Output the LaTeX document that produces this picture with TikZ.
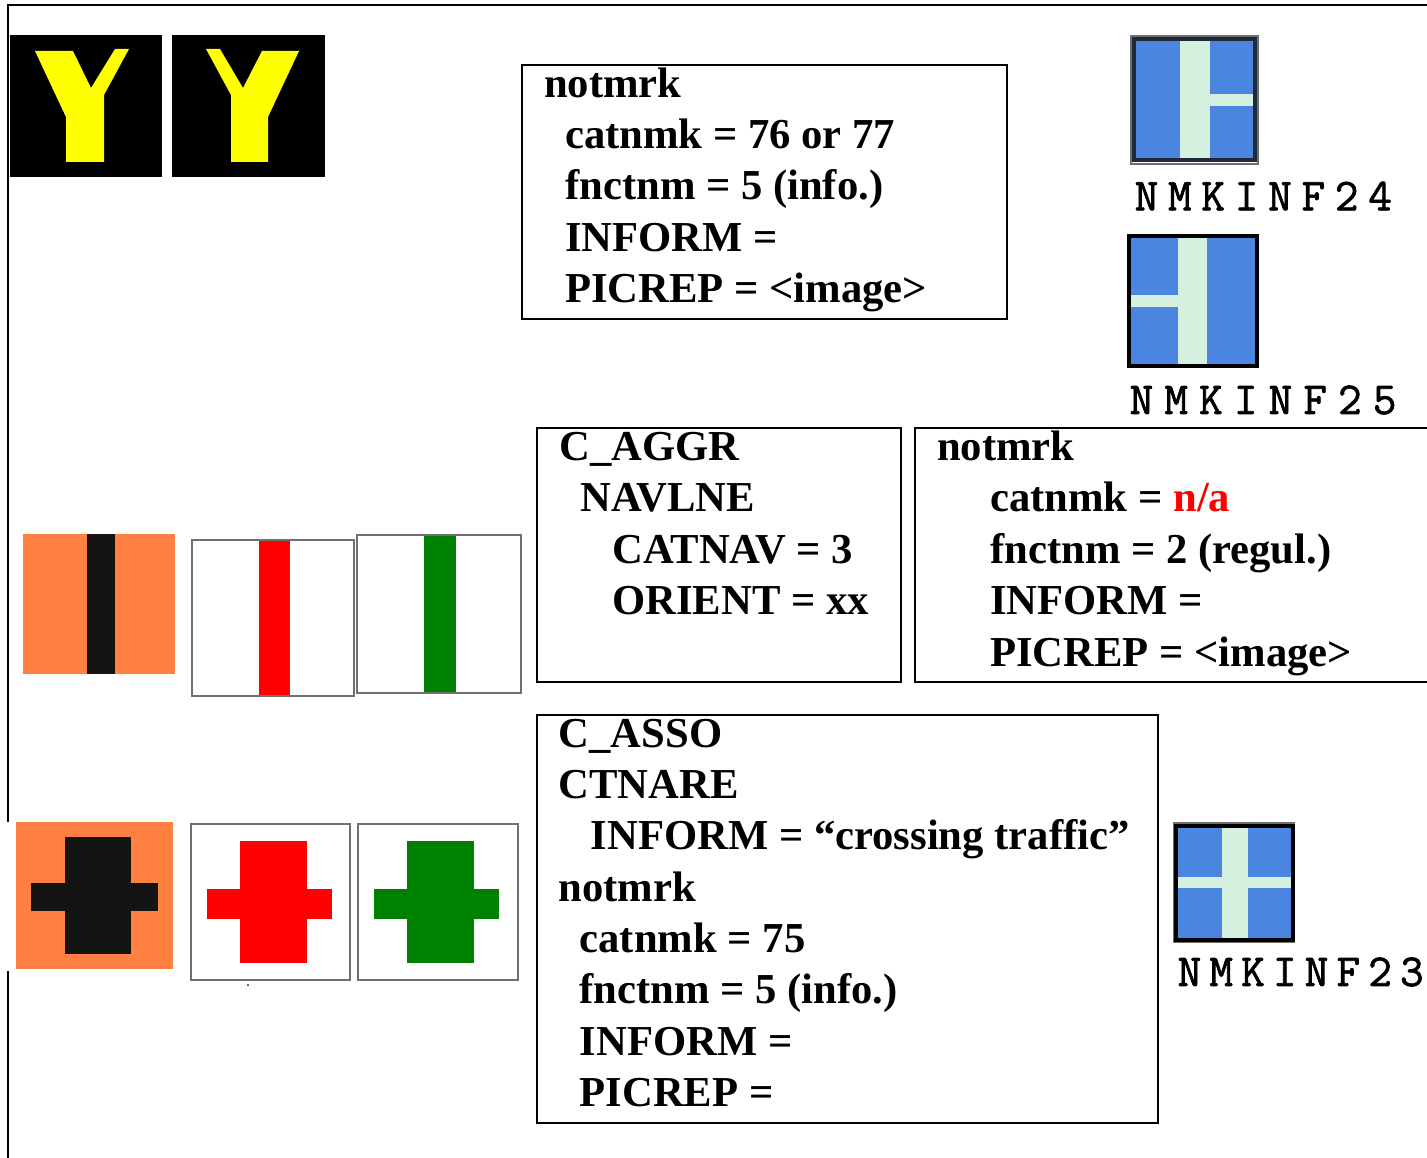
\documentclass[tikz,border=0pt]{standalone}
\usepackage{fontspec}
\usepackage{xcolor}
\setmainfont{Liberation Serif}
\newfontfamily\signfont[FakeBold=1.6]{Latin Modern Mono}
\definecolor{signorange}{HTML}{FF8040}
\definecolor{signblack}{HTML}{141414}
\definecolor{signyellow}{RGB}{255,255,0}
\definecolor{signgreen}{HTML}{008000}
\definecolor{signblue}{HTML}{4A86E0}
\definecolor{signpale}{HTML}{D6F0E0}
\definecolor{signedge}{HTML}{707070}
\definecolor{signdark}{HTML}{1E2A3A}
\tikzset{
  infobox/.style={draw=black,line width=0.7pt},
  infotext/.style={anchor=north west,inner sep=0pt,align=left,font=\fontsize{12.13}{14.6}\selectfont\bfseries},
  whitesign/.style={draw=signedge,line width=0.6pt,fill=white},
  bluesign/.style={draw=#1,line width=0.9pt,fill=signblue},
  outeredge/.style={draw=signedge,line width=0.7pt},
  signlabel/.style={anchor=west,inner sep=0pt,font=\fontsize{13}{13}\signfont\addfontfeature{LetterSpace=#1}}
}
\begin{document}
\begin{tikzpicture}[x=0.01cm,y=-0.01cm]
    \useasboundingbox (0,0) rectangle (1427,1158);
    % outer rule
    \draw[line width=0.7pt] (1427,5) -- (8,5) -- (8,1158);
    \fill[white] (5,822) rectangle (15,971);
    % yellow signs
    \fill[black] (10,35) rectangle (162,177);
    \fill[black] (172,35) rectangle (325,177);
    \fill[signyellow] (35,51) -- (73,51) -- (91,88) -- (115,49) -- (129,49) -- (104,95) -- (104,162) -- (66,162) -- (66,117) -- cycle;
    \fill[signyellow] (206,49) -- (220,49) -- (243,88) -- (262,51) -- (299,51) -- (268,117) -- (268,162) -- (231,162) -- (231,95) -- cycle;
    % stripe signs
    \fill[signorange] (23,534) rectangle (175,674);
    \fill[signblack] (87,534) rectangle (115,674);
    \draw[whitesign] (192,540) rectangle (354,696);
    \fill[red] (259,541) rectangle (290,695);
    \draw[whitesign] (357,535) rectangle (521,693);
    \fill[signgreen] (424,536) rectangle (456,692);
    % cross signs
    \fill[signorange] (16,822) rectangle (173,969);
    \fill[signblack] (65,837) rectangle (131,954);
    \fill[signblack] (31,883) rectangle (158,911);
    \draw[whitesign] (191,824) rectangle (350,980);
    \fill[red] (240,841) rectangle (307,963);
    \fill[red] (207,889) rectangle (332,919);
    \draw[whitesign] (358,824) rectangle (518,980);
    \fill[signgreen] (407,841) rectangle (474,963);
    \fill[signgreen] (374,889) rectangle (499,919);
    \fill[black] (248,985) circle (1);
    % text boxes
    \draw[infobox] (522,65) rectangle (1007,319);
    \node[infotext] (notmrktop) at (543.5,60.5) {\strut notmrk\\
      \hspace*{0.21cm}catnmk = 76 or 77\\
      \hspace*{0.21cm}fnctnm = 5 (info.)\\
      \hspace*{0.21cm}INFORM =\\
      \hspace*{0.21cm}PICREP = <image>};
    \draw[infobox] (537,428) rectangle (901,682);
    \node[infotext] (aggrtext) at (558.5,424) {\strut C\_AGGR\\
      \hspace*{0.21cm}NAVLNE\\
      \hspace*{0.53cm}CATNAV = 3\\
      \hspace*{0.53cm}ORIENT = xx};
    \draw[infobox] (1427,428) -- (915,428) -- (915,682) -- (1427,682);
    \node[infotext] (notmrkmid) at (936.5,424) {\strut notmrk\\
      \hspace*{0.53cm}catnmk = \textcolor{red}{n/a}\\
      \hspace*{0.53cm}fnctnm = 2 (regul.)\\
      \hspace*{0.53cm}INFORM =\\
      \hspace*{0.53cm}PICREP = <image>};
    \draw[infobox] (537,715) rectangle (1158,1123);
    \node[infotext] (assotext) at (558,710.5) {\strut C\_ASSO\\
      CTNARE\\
      \hspace*{0.32cm}INFORM = “crossing traffic”\\
      notmrk\\
      \hspace*{0.21cm}catnmk = 75\\
      \hspace*{0.21cm}fnctnm = 5 (info.)\\
      \hspace*{0.21cm}INFORM =\\
      \hspace*{0.21cm}PICREP =};
    % blue signs
    \draw[outeredge] (1131,36) rectangle (1258,164);
    \draw[bluesign=signdark] (1134,39) rectangle (1255,160);
    \fill[signpale] (1180,41) rectangle (1210,158);
    \fill[signpale] (1210,94) rectangle (1253,106);
    \node[signlabel=21.5] (nmkinftwentyfour) at (1134,196) {NMKINF24};
    \draw[bluesign=black] (1129,236) rectangle (1257,366);
    \fill[signpale] (1178,238) rectangle (1207,364);
    \fill[signpale] (1131,295) rectangle (1178,307);
    \node[signlabel=24.5] (nmkinftwentyfive) at (1129,400) {NMKINF25};
    \draw[outeredge] (1174,823) rectangle (1294,942);
    \draw[bluesign=black] (1176,826) rectangle (1293,940);
    \fill[signpale] (1222,828) rectangle (1248,938);
    \fill[signpale] (1178,877) rectangle (1291,888);
    \node[signlabel=18] (nmkinftwentythree) at (1177,972) {NMKINF23};
  \end{tikzpicture}
\end{document}
